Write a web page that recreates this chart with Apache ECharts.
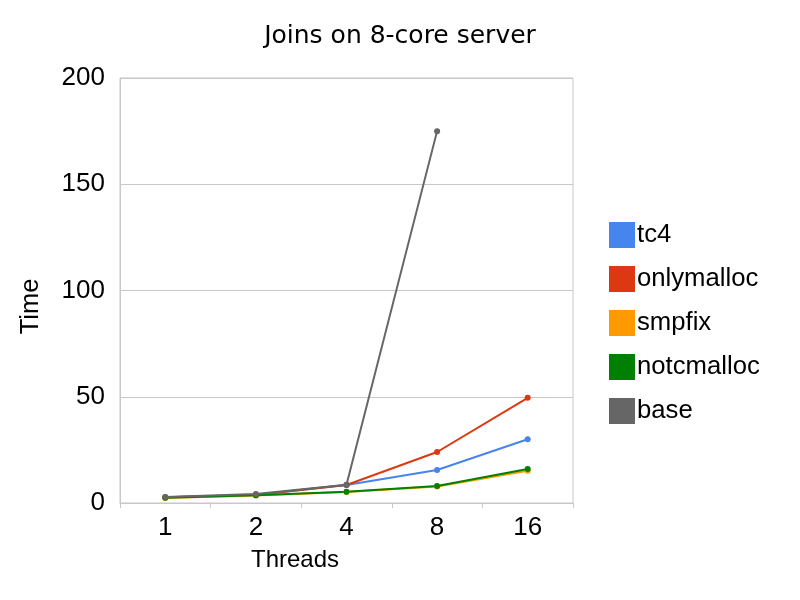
<!DOCTYPE html>
<html>
<head>
<meta charset="utf-8">
<script src="https://cdn.jsdelivr.net/npm/echarts@6/dist/echarts.min.js"></script>
<style>
  html, body { margin: 0; padding: 0; background: #fff; }
  #chart { width: 800px; height: 600px; }
</style>
</head>
<body>
<div id="chart"></div>
<script>
  const threads = ['1', '2', '4', '8', '16']
  const tc4 = [2.7, 3.8, 8.5, 15.5, 30]
  const onlymalloc = [2.7, 3.9, 8.5, 24, 49.5]
  const smpfix = [2.4, 3.5, 5.2, 7.8, 15.2]
  const notcmalloc = [2.5, 3.7, 5.3, 8.0, 16]
  const base = [2.8, 4.2, 8.6, 175, null]

  const font = 'Liberation Sans, Arial, sans-serif'
  const chart = echarts.init(document.getElementById('chart'))

  function line(name, data, color) {
    return {
      name: name,
      type: 'line',
      data: data,
      symbol: 'circle',
      symbolSize: 6,
      showAllSymbol: true,
      lineStyle: { width: 2, color: color },
      itemStyle: { color: color },
      animation: false
    }
  }

  let option = {
    backgroundColor: '#fff',
    title: {
      text: 'Joins on 8-core server',
      left: 'center',
      top: 19,
      textStyle: { fontFamily: 'DejaVu Sans', fontSize: 25, fontWeight: 'normal', color: '#000' }
    },
    legend: {
      orient: 'vertical',
      left: 604,
      top: 217,
      itemWidth: 26,
      itemHeight: 26,
      itemGap: 18,
      icon: 'rect',
      textStyle: { fontFamily: font, fontSize: 25.7, color: '#000', padding: [0, 0, 0, -3] },
      data: ['tc4', 'onlymalloc', 'smpfix', 'notcmalloc', 'base']
    },
    grid: {
      left: 120,
      right: 227,
      top: 78,
      bottom: 97,
      show: true,
      borderColor: '#c8c8c8',
      borderWidth: 1
    },
    xAxis: {
      type: 'category',
      data: threads,
      boundaryGap: true,
      name: 'Threads',
      nameLocation: 'middle',
      nameGap: 45,
      nameTextStyle: { fontFamily: font, fontSize: 24, color: '#000', padding: [0, 103, 0, 0] },
      axisLine: { lineStyle: { color: '#c8c8c8' } },
      axisTick: { show: true, length: 5, lineStyle: { color: '#c8c8c8' } },
      axisLabel: { fontFamily: font, fontSize: 26, color: '#000', margin: 12 }
    },
    yAxis: {
      type: 'value',
      min: 0,
      max: 200,
      interval: 50,
      name: 'Time',
      nameLocation: 'middle',
      nameGap: 76,
      nameTextStyle: { fontFamily: font, fontSize: 25.5, color: '#000', padding: [0, 32, 0, 0] },
      axisLine: { show: true, lineStyle: { color: '#c8c8c8' } },
      axisTick: { show: false },
      axisLabel: { fontFamily: font, fontSize: 26, color: '#000', margin: 15 },
      splitLine: { lineStyle: { color: '#c8c8c8' } }
    },
    series: [
      line('tc4', tc4, '#4684ee'),
      line('onlymalloc', onlymalloc, '#dc3912'),
      line('smpfix', smpfix, '#ff9900'),
      line('notcmalloc', notcmalloc, '#008000'),
      line('base', base, '#666666')
    ]
  }
  chart.setOption(option)
</script>
</body>
</html>
